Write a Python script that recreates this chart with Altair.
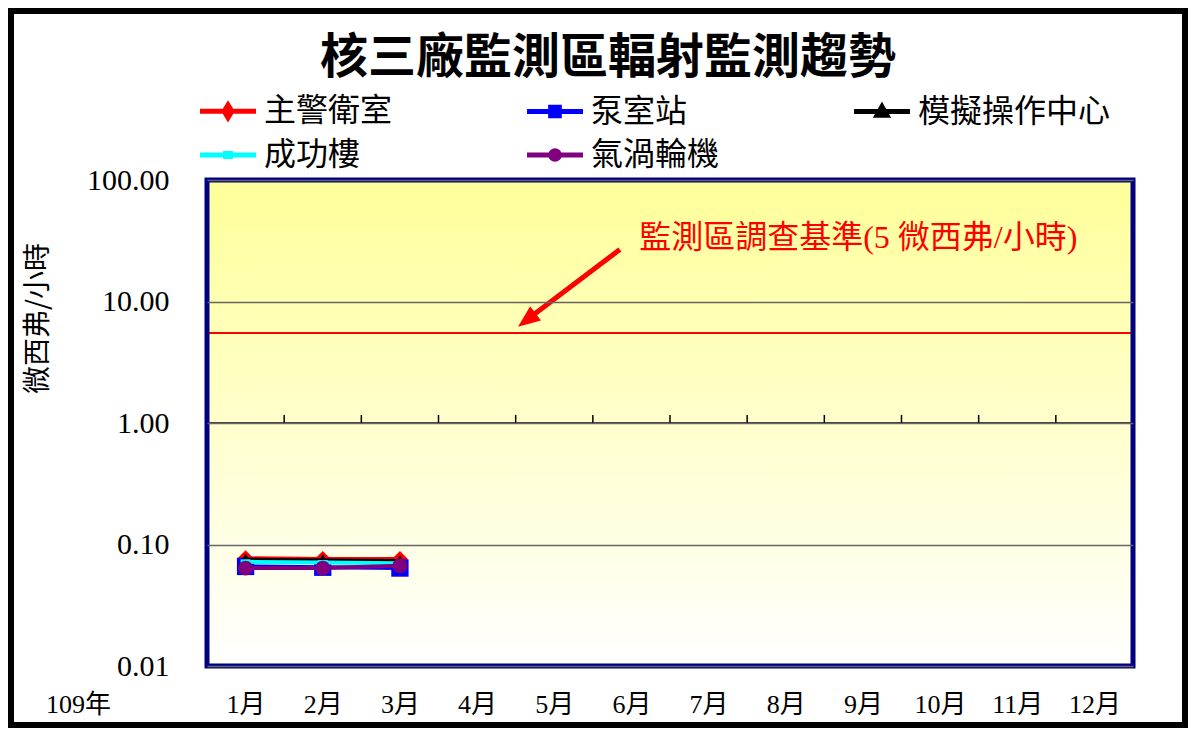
import math
import altair as alt
import pandas as pd

# ---------------- data ----------------
MONTHS = list(range(1, 13))
DATA_MONTHS = [1, 2, 3]
YEAR_LABEL = "109年"
TITLE = "核三廠監測區輻射監測趨勢"
Y_TITLE = "微西弗/小時"

SERIES = ["主警衛室", "泵室站", "模擬操作中心", "成功樓", "氣渦輪機"]
COLORS = ["#FF0000", "#0000FF", "#000000", "#00FFFF", "#800080"]

MAIN_GUARD = [0.077, 0.076, 0.076]     # 主警衛室
PUMP_ROOM = [0.066, 0.065, 0.064]      # 泵室站
SIMULATOR = [0.075, 0.074, 0.073]      # 模擬操作中心
CHENGGONG = [0.072, 0.071, 0.070]      # 成功樓
GAS_TURBINE = [0.064, 0.064, 0.067]    # 氣渦輪機
SERIES_VALUES = [MAIN_GUARD, PUMP_ROOM, SIMULATOR, CHENGGONG, GAS_TURBINE]

Y_TICKS = [0.01, 0.1, 1, 10, 100]
LIMIT = 5.5
LIMIT_LABEL = "監測區調查基準(5 微西弗/小時)"
LABEL_POS = [6.1, 33.6]          # month, value of annotation text start
ARROW_TAIL = [5.85, 26.8]
ARROW_TIP = [4.53, 6.21]

# ---------------- styles ----------------
CJK = "Noto Sans CJK TC"
SERIF = "Liberation Serif, Noto Sans CJK TC"
W, H = 926, 486
PAD = {"left": 199, "top": 172, "right": 55, "bottom": 62}

MARKERS = [
    dict(shape="diamond", size=256),
    dict(shape="square", size=300),
    dict(shape="triangle-up", size=200),
    dict(shape="M-1,-0.5H1V0.5H-1Z", size=100),
    dict(shape="circle", size=220),
]
LEGEND_PATHS = [
    "M-4,0H4M0,-0.9L0.55,0L0,0.9L-0.55,0Z",
    "M-4,0H4M-0.62,-0.62H0.62V0.62H-0.62Z",
    "M-4,0H4M0,-0.7L0.7,0.55L-0.7,0.55Z",
    "M-4,0H4M-0.35,-0.2H0.35V0.2H-0.35Z",
    "M-4,0H4M0.62,0A0.62,0.62,0,1,1,-0.62,0A0.62,0.62,0,1,1,0.62,0Z",
]

rows = []
for name, vals in zip(SERIES, SERIES_VALUES):
    for m, v in zip(DATA_MONTHS, vals):
        rows.append({"series": name, "month": m, "value": v})
df = pd.DataFrame(rows)

x_enc = alt.X(
    "month:Q",
    scale=alt.Scale(domain=[0.5, 12.5], nice=False, zero=False),
    axis=alt.Axis(
        values=MONTHS, labelExpr="datum.value + '月'", ticks=False, domain=False,
        grid=False, labelPadding=25, labelBaseline="top", labelFont=SERIF,
        labelFontSize=26, labelColor="black", labelFlush=False, labelOverlap=False,
        title=YEAR_LABEL, titleX=-129, titleY=25, titleBaseline="top",
        titleAlign="center", titleFont=SERIF, titleFontSize=26,
        titleFontWeight="normal", titleColor="black",
    ),
)
y_enc = alt.Y(
    "value:Q",
    scale=alt.Scale(type="log", domain=[0.01, 100], nice=False),
    axis=alt.Axis(
        values=Y_TICKS, format=".2f", grid=True, gridColor="#666666", gridWidth=1.5,
        ticks=False, domain=False, labelPadding=38, labelFont=SERIF, labelFontSize=30,
        labelColor="black", labelFlush=False, title=Y_TITLE, titleX=-169, titleY=138,
        titleAngle=270, titleFont=CJK, titleFontSize=28, titleFontWeight="normal",
        titleAlign="center", titleBaseline="middle", titleColor="black", zindex=1,
    ),
)

one = alt.Data(values=[{}])

bg = alt.Chart(one).mark_rect(
    color=alt.Gradient(
        gradient="linear",
        stops=[alt.GradientStop(color="#FFFF99", offset=0),
               alt.GradientStop(color="#FFFFFF", offset=1)],
        x1=0, x2=0, y1=0, y2=1,
    )
).encode(x=alt.value(0), x2=alt.value("width"), y=alt.value(0), y2=alt.value("height"))

base_rule = alt.Chart(one).mark_rule(color="black", strokeWidth=1.5).encode(y=alt.datum(1))

bounds = pd.DataFrame({"month": [m + 0.5 for m in MONTHS[:-1]]})
ticks = alt.Chart(bounds).mark_rule(color="black", strokeWidth=1.5).encode(
    x=x_enc, y=alt.datum(1), y2=alt.datum(1.165)
)

limit = alt.Chart(one).mark_rule(color="#FF0000", strokeWidth=2).encode(y=alt.datum(LIMIT))

label = alt.Chart(one).mark_text(
    text=LIMIT_LABEL, align="left", baseline="middle", color="#FF0000",
    font=SERIF, fontSize=32,
).encode(x=alt.datum(LABEL_POS[0]), y=alt.datum(LABEL_POS[1]))

f = 0.14
end_m = ARROW_TIP[0] + f * (ARROW_TAIL[0] - ARROW_TIP[0])
end_v = 10 ** (math.log10(ARROW_TIP[1]) + f * (math.log10(ARROW_TAIL[1]) - math.log10(ARROW_TIP[1])))
arrow_df = pd.DataFrame({"month": [ARROW_TAIL[0], end_m], "value": [ARROW_TAIL[1], end_v]})
arrow_line = alt.Chart(arrow_df).mark_line(color="#FF0000", strokeWidth=5).encode(x=x_enc, y=y_enc)
tip_df = pd.DataFrame({"month": [ARROW_TIP[0]], "value": [ARROW_TIP[1]]})
arrow_head = alt.Chart(tip_df).mark_point(
    shape="M0,0L0.9,2.2L-0.9,2.2Z", filled=True, color="#FF0000", opacity=1,
    size=400, angle=233,
).encode(x=x_enc, y=y_enc)

series_layers = []
for name, col, mk in zip(SERIES, COLORS, MARKERS):
    src = alt.Chart(df).transform_filter(alt.datum.series == name)
    series_layers.append(src.mark_line(color=col, strokeWidth=4).encode(x=x_enc, y=y_enc))
    series_layers.append(
        src.mark_point(filled=True, color=col, opacity=1, **mk).encode(x=x_enc, y=y_enc)
    )

legend_def = alt.Legend(
    title=None, orient="none", direction="horizontal", legendX=5, legendY=-85, columns=3,
    columnPadding=124, rowPadding=11, labelOffset=20, symbolSize=196,
    symbolStrokeWidth=5, labelFont=CJK, labelFontSize=32, labelLimit=400,
    labelColor="black", padding=0, gridAlign="each", symbolOpacity=1,
)
legend_layer = alt.Chart(df).transform_filter("false").mark_point(
    filled=True, opacity=1, strokeWidth=5
).encode(
    x=x_enc, y=y_enc,
    fill=alt.Fill("series:N", scale=alt.Scale(domain=SERIES, range=COLORS), legend=legend_def),
    stroke=alt.Stroke("series:N", scale=alt.Scale(domain=SERIES, range=COLORS), legend=legend_def),
    shape=alt.Shape("series:N", scale=alt.Scale(domain=SERIES, range=LEGEND_PATHS), legend=legend_def),
)

border = alt.Chart(one).mark_rect(fill="transparent", stroke="#000080", strokeWidth=5).encode(
    x=alt.value(0), x2=alt.value("width"), y=alt.value(0), y2=alt.value("height")
)
frame = alt.Chart(one).mark_rect(fill="transparent", stroke="black", strokeWidth=6).encode(
    x=alt.value(-PAD["left"] + 3), x2=alt.value(W + PAD["right"] - 3),
    y=alt.value(-PAD["top"] + 3), y2=alt.value(H + PAD["bottom"] - 3),
)

chart = alt.layer(
    bg, base_rule, ticks, limit, label, arrow_line, arrow_head,
    *series_layers, legend_layer, border, frame,
).properties(
    width=W, height=H, padding=PAD,
    autosize=alt.AutoSizeParams(type="none"),
    title=alt.TitleParams(
        text=TITLE, font=CJK, fontSize=48, fontWeight="bold", color="black",
        anchor="middle", dx=-62, dy=85, offset=10, frame="group",
    ),
).configure_view(strokeWidth=0).configure(background="white")

chart.save("out.html", embed_options={"renderer": "svg", "actions": False})
